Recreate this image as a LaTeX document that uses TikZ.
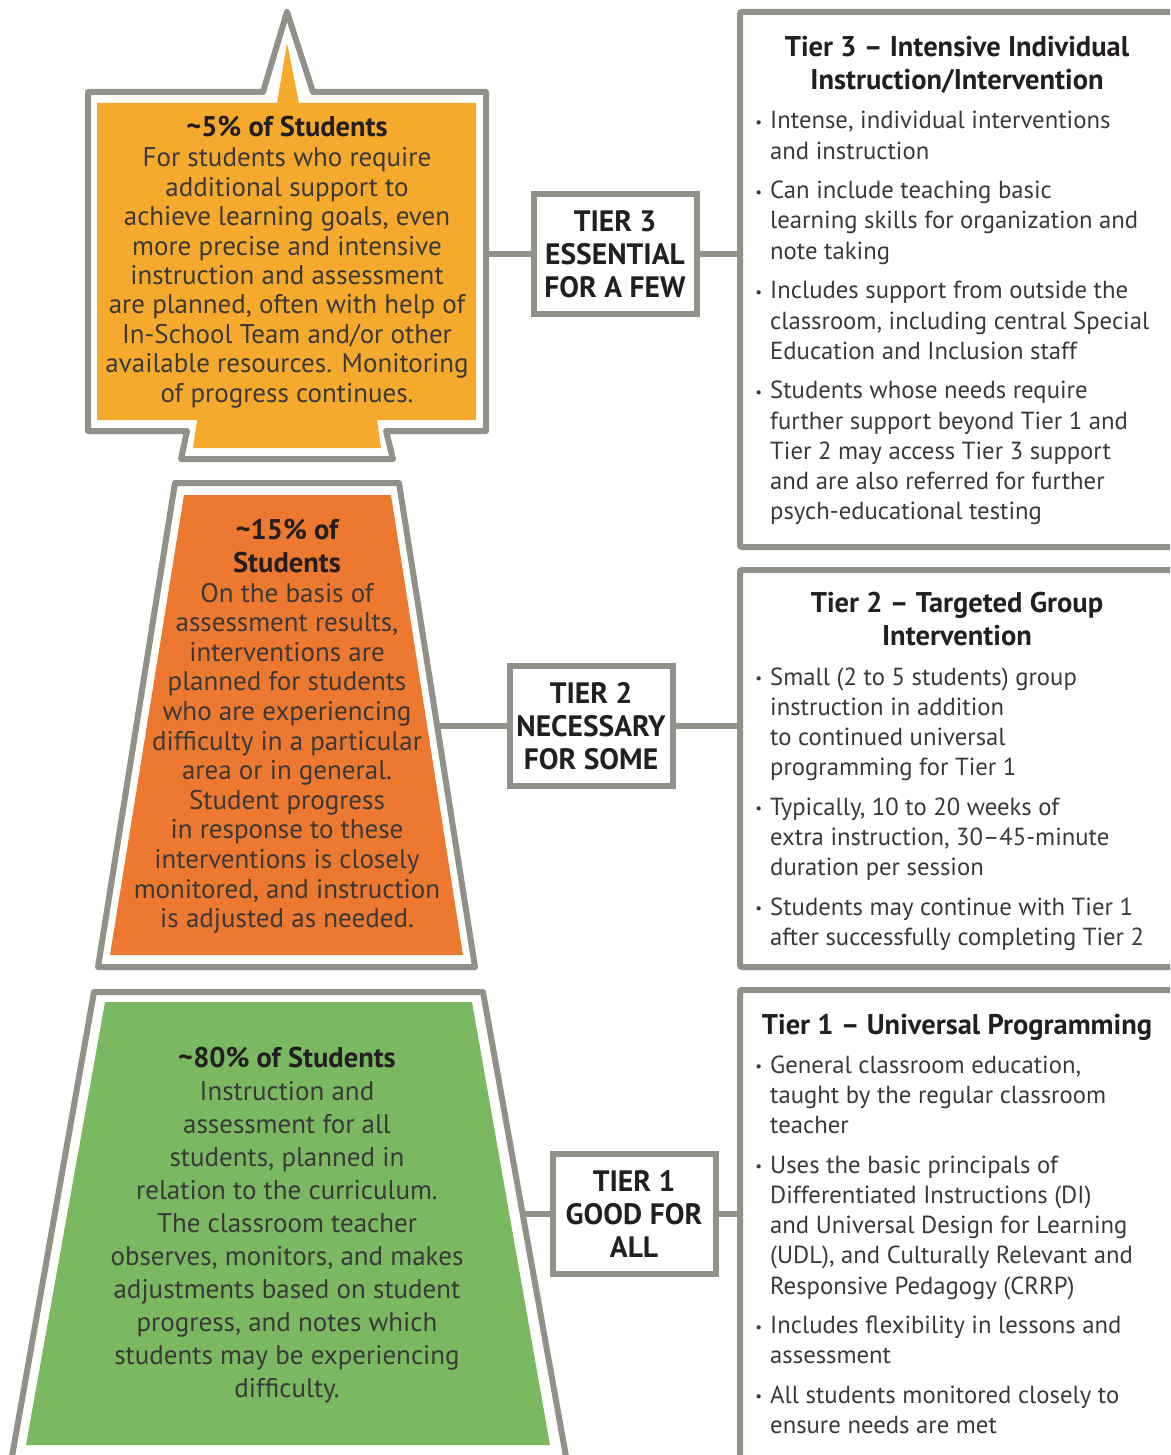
\documentclass[tikz,border=0pt]{standalone}
\usepackage{fontspec}
\setmainfont{PT Sans}
\usetikzlibrary{positioning}

\definecolor{tiergray}{RGB}{145,145,138}
\definecolor{fewcol}{RGB}{245,170,46}
\definecolor{somecol}{RGB}{236,121,47}
\definecolor{allcol}{RGB}{122,185,98}
\definecolor{bodyink}{RGB}{58,56,56}
\definecolor{headink}{RGB}{35,31,32}

\newcommand\tierlines[1]{\begin{tabular}[t]{@{}c@{}}#1\end{tabular}}
\newcommand\itemlines[1]{\begin{tabular}[t]{@{}l@{}}#1\end{tabular}}
\newcommand\bul{\llap{\raisebox{1.5pt}{\fontsize{15}{15}\selectfont\textbullet}\hspace{8pt}}}
\newcommand\pct{\textasciitilde}

\begin{document}
\begin{tikzpicture}[
    x=1pt, y=-1pt,
    outline/.style = {draw=tiergray, line width=6pt, line join=round, fill=white},
    link/.style = {draw=tiergray, line width=6pt},
    panel/.style = {draw=tiergray, line width=6pt, rounded corners=2pt},
    tierbox/.style = {
      draw = tiergray,
      line width = 6pt,
      fill = white,
      minimum width = 163pt,
      minimum height = 120pt,
      inner sep = 0pt,
      align = center,
      text = headink,
      font = \fontsize{29.5}{33}\selectfont\bfseries
    },
    shapehead/.style = {anchor=base, inner sep=0pt, text=headink,
      font=\fontsize{28.5}{33}\selectfont\bfseries},
    shapebody/.style = {anchor=base, inner sep=0pt, text=bodyink,
      font=\fontsize{27}{#1}\selectfont},
    itemtext/.style = {inner sep=0pt, text=bodyink,
      font=\fontsize{24.7}{30.3}\selectfont},
    bulletfirst/.style = {itemtext, anchor=base west},
    bulletnext/.style = {itemtext, below=8.7pt of #1.south west, anchor=north west}
  ]
  \useasboundingbox (0,0) rectangle (1170,1455);
  \clip (0,0) rectangle (1170,1455);

  % tier shapes
  \draw[outline] (88,92) -- (263,92) -- (287,12) -- (313,92) -- (486,92)
    -- (486,431) -- (386,431) -- (393,459) -- (181,459) -- (187,431)
    -- (88,431) -- cycle;
  \fill[fewcol] (97,103) -- (277,103) -- (287,43) -- (299,103) -- (476,103)
    -- (476,420) -- (377,420) -- (381,448) -- (193,448) -- (197,420)
    -- (97,420) -- cycle;
  \draw[outline] (175,483) -- (399,483) -- (475,967) -- (98,967) -- cycle;
  \fill[somecol] (184,495) -- (391,495) -- (463,955) -- (110,955) -- cycle;
  \draw[outline] (94,992) -- (483,992) -- (567,1462) -- (11,1462) -- cycle;
  \fill[allcol] (105,1002) -- (472,1002) -- (550,1445) -- (26,1445) -- cycle;

  % right panels
  \draw[panel] (1200,12) -| (740,547) -- (1200,547);
  \draw[panel] (1200,570) -| (740,967) -- (1200,967);
  \draw[panel] (1200,990) -| (740,1470);

  \coordinate (t3shape) at (486,254);
  \coordinate (t3panel) at (740,254);
  \coordinate (t2shape) at (437,726);
  \coordinate (t2panel) at (740,726);
  \coordinate (t1shape) at (522,1214);
  \coordinate (t1panel) at (740,1214);

  \node[tierbox] (t3box) at (615,254) {TIER 3\\ESSENTIAL\\FOR A FEW};
  \node[tierbox] (t2box) at (591,726) {TIER 2\\NECESSARY\\FOR SOME};
  \node[tierbox] (t1box) at (634,1214) {TIER 1\\GOOD FOR\\ALL};

  \draw[link] (t3shape) -- (t3box);
  \draw[link] (t3box) -- (t3panel);
  \draw[link] (t2shape) -- (t2box);
  \draw[link] (t2box) -- (t2panel);
  \draw[link] (t1shape) -- (t1box);
  \draw[link] (t1box) -- (t1panel);

  % texts in the shapes
  \node[shapehead] (fewhead) at (287,137) {\pct5\% of Students};
  \node[shapebody=29.4] (fewtext) at (287,167) {\tierlines{
    For students who require\\additional support to\\
    achieve learning goals, even\\more precise and intensive\\
    instruction and assessment\\are planned, often with help of\\
    In-School Team and/or other\\available resources. Monitoring\\
    of progress continues.}};

  \node[shapehead] (somehead) at (287,539) {\tierlines{\pct15\% of\\Students}};
  \node[shapebody=29.6] (sometext) at (287,602) {\tierlines{
    On the basis of\\assessment results,\\interventions are\\
    planned for students\\who are experiencing\\
    difficulty in a particular\\area or in general.\\Student progress\\
    in response to these\\interventions is closely\\
    monitored, and instruction\\is adjusted as needed.}};

  \node[shapehead] (allhead) at (287,1067) {\pct80\% of Students};
  \node[shapebody=33] (alltext) at (287,1100) {\tierlines{
    Instruction and\\assessment for all\\students, planned in\\
    relation to the curriculum.\\The classroom teacher\\
    observes, monitors, and makes\\adjustments based on student\\
    progress, and notes which\\students may be experiencing\\
    difficulty.}};

  % texts in the panels
  \node[shapehead] (fewtitle) at (957,57)
    {\tierlines{Tier 3 -- Intensive Individual\\Instruction/Intervention}};
  \node[bulletfirst] (few1) at (770,129)
    {\itemlines{\bul Intense, individual interventions\\and instruction}};
  \node[bulletnext=few1] (few2)
    {\itemlines{\bul Can include teaching basic\\learning skills for organization and\\note taking}};
  \node[bulletnext=few2] (few3)
    {\itemlines{\bul Includes support from outside the\\classroom, including central Special\\Education and Inclusion staff}};
  \node[bulletnext=few3] (few4)
    {\itemlines{\bul Students whose needs require\\further support beyond Tier 1 and\\Tier 2 may access Tier 3 support\\and are also referred for further\\psych-educational testing}};

  \node[shapehead] (sometitle) at (957,612)
    {\tierlines{Tier 2 -- Targeted Group\\Intervention}};
  \node[bulletfirst] (some1) at (770,685)
    {\itemlines{\bul Small (2 to 5 students) group\\instruction in addition\\to continued universal\\programming for Tier 1}};
  \node[bulletnext=some1] (some2)
    {\itemlines{\bul Typically, 10 to 20 weeks of\\extra instruction, 30--45-minute\\duration per session}};
  \node[bulletnext=some2] (some3)
    {\itemlines{\bul Students may continue with Tier 1\\after successfully completing Tier 2}};

  \node[shapehead] (alltitle) at (957,1034) {Tier 1 -- Universal Programming};
  \node[bulletfirst] (all1) at (770,1073)
    {\itemlines{\bul General classroom education,\\taught by the regular classroom\\teacher}};
  \node[bulletnext=all1] (all2)
    {\itemlines{\bul Uses the basic principals of\\Differentiated Instructions (DI)\\and Universal Design for Learning\\(UDL), and Culturally Relevant and\\Responsive Pedagogy (CRRP)}};
  \node[bulletnext=all2] (all3)
    {\itemlines{\bul Includes flexibility in lessons and\\assessment}};
  \node[bulletnext=all3] (all4)
    {\itemlines{\bul All students monitored closely to\\ensure needs are met}};
\end{tikzpicture}
\end{document}
